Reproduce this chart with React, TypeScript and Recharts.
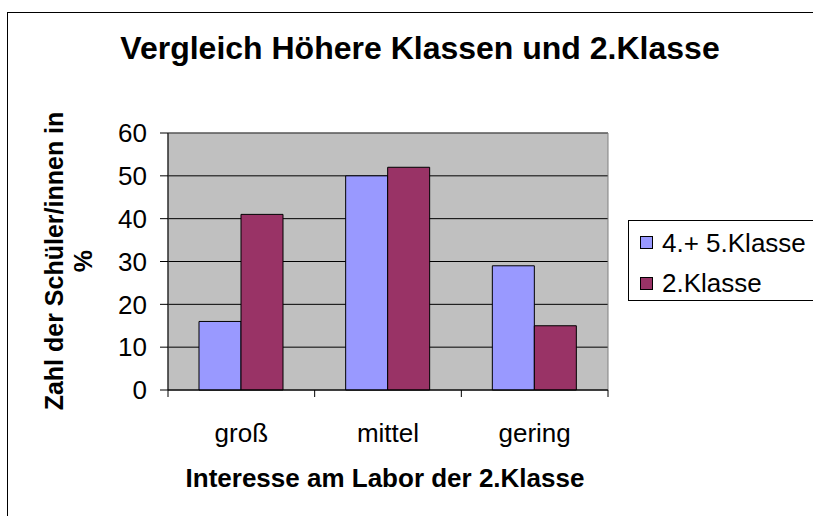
import {
  Bar,
  BarChart,
  CartesianGrid,
  ReferenceArea,
  XAxis,
  YAxis
} from "recharts";

const categories = ["groß", "mittel", "gering"];
const higherClasses = [16, 50, 29];
const secondClass = [41, 52, 15];
const yTicks = [0, 10, 20, 30, 40, 50, 60];
const boundaryTicks = [0, 1, 2, 3];

const seriesNames = ["4.+ 5.Klasse", "2.Klasse"];
const seriesColors = ["#9999FF", "#993366"];

const chartTitle = "Vergleich Höhere Klassen und 2.Klasse";
const xTitle = "Interesse am Labor der 2.Klasse";
const yTitleLines = ["Zahl der Schüler/innen in", "%"];

const FONT = '"Liberation Sans", Arial, sans-serif';

const data = categories.map((name, i) => ({
  name,
  pos: i + 0.5,
  higher: higherClasses[i],
  second: secondClass[i]
}));

function YTitle() {
  const cy = 261;
  const xs = [63, 92];
  return (
    <g>
      {yTitleLines.map((line, i) => (
        <text
          key={line}
          x={xs[i]}
          y={cy}
          textAnchor="middle"
          transform={`rotate(-90 ${xs[i]} ${cy})`}
          fontFamily={FONT}
          fontSize={25}
          fontWeight="bold"
          fill="#000"
        >
          {line}
        </text>
      ))}
    </g>
  );
}

function XTitle() {
  return (
    <text
      x={385}
      y={487}
      textAnchor="middle"
      fontFamily={FONT}
      fontSize={26}
      fontWeight="bold"
      fill="#000"
    >
      {xTitle}
    </text>
  );
}

// boundary axis only shows tick marks, no labels
function EmptyTick() {
  return <g />;
}

function LegendBox() {
  return (
    <div
      style={{
        position: "absolute",
        left: 628,
        top: 220,
        width: 200,
        height: 79,
        border: "1px solid #000",
        background: "#fff",
        fontFamily: FONT,
        fontSize: 26,
        lineHeight: 1
      }}
    >
      {seriesNames.map((name, i) => (
        <div key={name}>
          <div
            style={{
              position: "absolute",
              left: 11,
              top: 15 + i * 41,
              width: 11,
              height: 11,
              border: "1px solid #000",
              background: seriesColors[i]
            }}
          />
          <div style={{ position: "absolute", left: 33, top: 9 + i * 40, whiteSpace: "nowrap" }}>
            {name}
          </div>
        </div>
      ))}
    </div>
  );
}

export default function App() {
  return (
    <div
      style={{
        position: "absolute",
        left: 0,
        top: 0,
        width: 813,
        height: 516,
        overflow: "hidden",
        background: "#fff"
      }}
    >
      <div
        style={{
          position: "absolute",
          left: 7,
          top: 12,
          width: 830,
          height: 530,
          border: "1px solid #000"
        }}
      />
      <div
        style={{
          position: "absolute",
          left: 0,
          top: 32,
          width: 840,
          textAlign: "center",
          fontFamily: FONT,
          fontSize: 32,
          fontWeight: "bold",
          lineHeight: 1
        }}
      >
        {chartTitle}
      </div>
      <div style={{ position: "absolute", left: 0, top: 0 }}>
        <BarChart
          width={813}
          height={516}
          data={data}
          margin={{ top: 133, right: 205, bottom: 0, left: 0 }}
          barGap={0}
        >
          <CartesianGrid
            vertical={false}
            stroke="#000"
            fill="#C0C0C0"
            fillOpacity={1}
          />
          <XAxis
            xAxisId="a"
            type="number"
            dataKey="pos"
            domain={[0, 3]}
            ticks={boundaryTicks}
            height={1}
            tick={<EmptyTick />}
            tickSize={7}
            axisLine={{ stroke: "#000" }}
            tickLine={{ stroke: "#000" }}
          />
          <XAxis
            xAxisId="b"
            dataKey="name"
            height={125}
            axisLine={false}
            tickLine={false}
            tickSize={0}
            tickMargin={33}
            tick={{ fill: "#000", fontSize: 26, fontFamily: FONT }}
            label={<XTitle />}
          />
          <YAxis
            domain={[0, 60]}
            ticks={yTicks}
            width={168}
            tickSize={8}
            tickMargin={13}
            axisLine={{ stroke: "#000" }}
            tickLine={{ stroke: "#000" }}
            tick={{ fill: "#000", fontSize: 26, fontFamily: FONT }}
            label={<YTitle />}
          />
          <ReferenceArea
            xAxisId="a"
            x1={0}
            x2={3}
            y1={0}
            y2={60}
            fill="none"
            stroke="#808080"
            strokeWidth={1}
          />
          <Bar
            xAxisId="b"
            dataKey="higher"
            name={seriesNames[0]}
            fill={seriesColors[0]}
            stroke="#000"
            strokeWidth={1}
            barSize={42}
            isAnimationActive={false}
          />
          <Bar
            xAxisId="b"
            dataKey="second"
            name={seriesNames[1]}
            fill={seriesColors[1]}
            stroke="#000"
            strokeWidth={1}
            barSize={42}
            isAnimationActive={false}
          />
        </BarChart>
      </div>
      <LegendBox />
    </div>
  );
}
